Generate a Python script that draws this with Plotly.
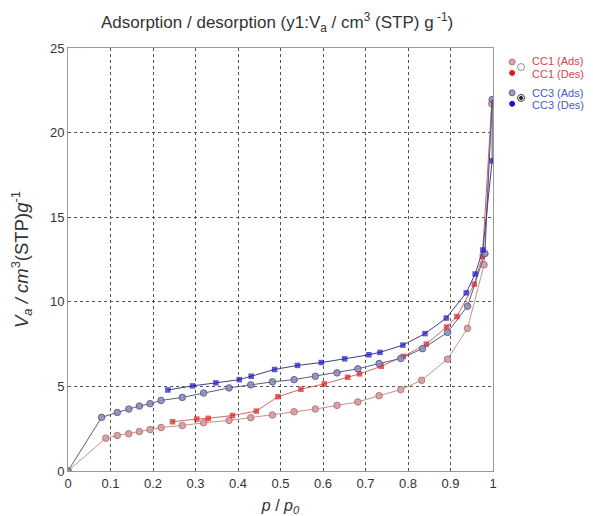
import plotly.graph_objects as go

# ---- data ----
cc1_ads_p = [0.0, 0.089, 0.116, 0.143, 0.168, 0.193, 0.219, 0.269, 0.319, 0.379, 0.430, 0.481,
             0.532, 0.582, 0.633, 0.682, 0.732, 0.783, 0.832, 0.893, 0.940, 0.979, 0.997]
cc1_ads_v = [0.0, 1.94, 2.10, 2.20, 2.33, 2.45, 2.57, 2.69, 2.85, 2.99, 3.15, 3.31,
             3.50, 3.66, 3.88, 4.08, 4.45, 4.81, 5.36, 6.61, 8.43, 12.19, 21.7]

cc1_des_p = [0.997, 0.975, 0.956, 0.915, 0.891, 0.843, 0.789, 0.737, 0.686, 0.658, 0.603,
             0.548, 0.494, 0.443, 0.387, 0.330, 0.303, 0.246]
cc1_des_v = [21.7, 12.69, 11.04, 9.13, 8.51, 7.50, 6.77, 6.19, 5.74, 5.54, 5.15,
             4.83, 4.39, 3.54, 3.28, 3.11, 3.07, 2.91]

cc3_ads_p = [0.0, 0.079, 0.116, 0.143, 0.168, 0.193, 0.219, 0.269, 0.319, 0.379, 0.430, 0.481,
             0.532, 0.582, 0.633, 0.682, 0.732, 0.783, 0.834, 0.893, 0.940, 0.981, 0.998]
cc3_ads_v = [0.0, 3.17, 3.46, 3.66, 3.84, 3.98, 4.17, 4.35, 4.61, 4.91, 5.09, 5.27,
             5.40, 5.60, 5.80, 6.04, 6.35, 6.65, 7.23, 8.19, 9.74, 12.85, 21.95]

cc3_des_p = [0.998, 0.998, 0.976, 0.958, 0.937, 0.890, 0.840, 0.788, 0.734, 0.708, 0.651,
             0.596, 0.540, 0.486, 0.431, 0.403, 0.348, 0.293, 0.235]
cc3_des_v = [21.95, 18.33, 13.06, 11.64, 10.53, 9.04, 8.12, 7.44, 7.01, 6.87, 6.63,
             6.41, 6.24, 6.00, 5.60, 5.40, 5.21, 5.03, 4.79]

series_names = ["CC1 (Ads)", "CC1 (Des)", "CC3 (Ads)", "CC3 (Des)"]

x_ticks = [0, 0.1, 0.2, 0.3, 0.4, 0.5, 0.6, 0.7, 0.8, 0.9, 1.0]
x_labels = ["0", "0.1", "0.2", "0.3", "0.4", "0.5", "0.6", "0.7", "0.8", "0.9", "1"]
y_ticks = [0, 5, 10, 15, 20, 25]

FONT = "Arial, 'Liberation Sans', sans-serif"

CC1_ADS_FILL, CC1_ADS_EDGE = "rgba(215,150,150,0.85)", "#b07878"
CC1_DES = "#e01a1a"
CC3_ADS_FILL, CC3_ADS_EDGE = "rgba(140,140,175,0.85)", "#60609a"
CC3_DES = "#1414c8"

fig = go.Figure()

fig.add_trace(go.Scatter(x=cc1_ads_p, y=cc1_ads_v, mode="lines+markers", name=series_names[0],
                         line=dict(color="#c99090", width=1),
                         marker=dict(symbol="circle", size=6.5, color=CC1_ADS_FILL,
                                     line=dict(color=CC1_ADS_EDGE, width=1))))
fig.add_trace(go.Scatter(x=cc1_des_p, y=cc1_des_v, mode="lines+markers", name=series_names[1],
                         line=dict(color="#d06868", width=1),
                         marker=dict(symbol="square", size=[0] + [5.5] * (len(cc1_des_p) - 1),
                                     color=CC1_DES, line=dict(width=0))))
fig.add_trace(go.Scatter(x=cc3_ads_p, y=cc3_ads_v, mode="lines+markers", name=series_names[2],
                         line=dict(color="#5a5a82", width=1),
                         marker=dict(symbol="circle", size=6.5, color=CC3_ADS_FILL,
                                     line=dict(color=CC3_ADS_EDGE, width=1))))
fig.add_trace(go.Scatter(x=cc3_des_p, y=cc3_des_v, mode="lines+markers", name=series_names[3],
                         line=dict(color="#404080", width=1),
                         marker=dict(symbol="square", size=[0] + [5.5] * (len(cc3_des_p) - 1),
                                     color=CC3_DES, line=dict(width=0))))

# ---- custom legend (text + symbols), placed right of the plot ----
leg_text_y = [0.969, 0.9385, 0.8936, 0.8652]
leg_text_col = ["#d04848", "#d04848", "#4a5ac0", "#4a5ac0"]
annotations = []
for name, yy, col in zip(series_names, leg_text_y, leg_text_col):
    annotations.append(dict(x=1.086, y=yy, xref="paper", yref="paper", text=name,
                            showarrow=False, xanchor="left", yanchor="middle",
                            font=dict(family=FONT, size=11, color=col)))

def dot(xp, yp, r, fill, edge, width=1):
    return dict(type="circle", xref="paper", yref="paper", xsizemode="pixel", ysizemode="pixel",
                xanchor=xp, yanchor=yp, x0=-r, x1=r, y0=-r, y1=r,
                fillcolor=fill, line=dict(color=edge, width=width))

shapes = [
    dot(1.045, 0.967, 3, CC1_ADS_FILL, CC1_ADS_EDGE),
    dot(1.045, 0.941, 2.5, CC1_DES, CC1_DES),
    dot(1.066, 0.955, 3.5, "white", "#909090"),
    dot(1.045, 0.894, 3, CC3_ADS_FILL, CC3_ADS_EDGE),
    dot(1.045, 0.868, 2.5, CC3_DES, CC3_DES),
    dot(1.066, 0.882, 3.5, "#e8e8e8", "#404040"),
    dot(1.066, 0.882, 1.5, "#202020", "#202020"),
]

grid = dict(showgrid=True, gridcolor="#555555", griddash="dot", gridwidth=1)

fig.update_layout(
    width=585, height=508,
    margin=dict(l=60, r=100, t=40, b=45, autoexpand=False),
    paper_bgcolor="white", plot_bgcolor="white",
    font=dict(family=FONT, size=13, color="#333333"),
    title=dict(text="Adsorption / desorption (y1:V<sub>a</sub> / cm<sup>3</sup> (STP) g<sup> -1</sup>)",
               x=0.46, xanchor="center", y=0.972, yanchor="middle",
               font=dict(family=FONT, size=17, color="#333333")),
    showlegend=False,
    annotations=annotations,
    shapes=shapes,
)
fig.update_xaxes(range=[0, 1.0], tickvals=x_ticks, ticktext=x_labels,
                 showline=True, linecolor="#999999", linewidth=1, mirror=True,
                 zeroline=False, ticks="", tickfont=dict(size=13),
                 title=dict(text="<i>p</i> / <i>p<sub>0</sub></i>", font=dict(size=16), standoff=10),
                 **grid)
fig.update_yaxes(range=[0, 25], tickvals=y_ticks,
                 showline=True, linecolor="#999999", linewidth=1, mirror=True,
                 zeroline=False, ticks="", tickfont=dict(size=13),
                 title=dict(text="<i>V<sub>a</sub> / cm</i><sup>3</sup>(STP)<i>g</i><sup>-1</sup>",
                            font=dict(size=18.5), standoff=17),
                 **grid)

fig.write_html("out.html")
